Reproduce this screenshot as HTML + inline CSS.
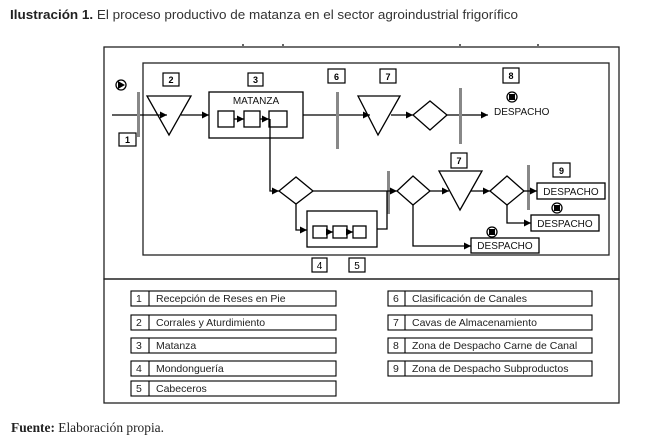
<!DOCTYPE html>
<html><head><meta charset="utf-8"><style>
html,body{margin:0;padding:0;background:#fff;}
svg{display:block;}
text{font-family:"Liberation Sans",sans-serif;}
</style></head><body>
<svg width="648" height="441" viewBox="0 0 648 441" xmlns="http://www.w3.org/2000/svg">
<defs>
<marker id="a" markerWidth="8" markerHeight="8" refX="7" refY="4" orient="auto" markerUnits="userSpaceOnUse">
<path d="M0,0.5 L7,4 L0,7.5 Z" fill="#000"/></marker>
</defs>
<text x="10" y="19" font-size="13" fill="#333" textLength="508" lengthAdjust="spacingAndGlyphs"><tspan font-weight="bold" fill="#222">Ilustración 1.</tspan> El proceso productivo de matanza en el sector agroindustrial frigorífico</text>
<g fill="#666"><rect x="242" y="44" width="2" height="2"/><rect x="282" y="44" width="2" height="2"/><rect x="459" y="44" width="2" height="2"/><rect x="537" y="44" width="2" height="2"/></g>
<g fill="none" stroke="#222" stroke-width="1.3">
<rect x="104" y="47" width="515" height="232"/>
<rect x="143" y="63" width="466" height="192"/>
<rect x="104" y="279" width="515" height="124"/>
</g>
<g stroke="#000" stroke-width="1.3" fill="none">
<circle cx="121" cy="85" r="5"/>
<line x1="112" y1="115" x2="167" y2="115" marker-end="url(#a)"/>
<line x1="181" y1="115" x2="209" y2="115" marker-end="url(#a)"/>
<polygon points="147,96 191,96 169,135" fill="none"/>
<rect x="209" y="92" width="94" height="46"/>
<rect x="218" y="111" width="16" height="16"/>
<rect x="244" y="111" width="16" height="16"/>
<rect x="269" y="111" width="18" height="16"/>
<line x1="234" y1="119" x2="244" y2="119" marker-end="url(#a)"/>
<line x1="260" y1="119" x2="269" y2="119" marker-end="url(#a)"/>
<line x1="303" y1="115" x2="370" y2="115" marker-end="url(#a)"/>
<polygon points="358,96 400,96 378,135"/>
<line x1="391" y1="115" x2="413" y2="115" marker-end="url(#a)"/>
<polygon points="413,115 430,101 447,115 430,130"/>
<line x1="447" y1="115" x2="488" y2="115" marker-end="url(#a)"/>
<circle cx="512" cy="97" r="5"/>
</g>
<path d="M118,81 L125,85 L118,89 Z" fill="#000"/>
<rect x="509" y="94" width="6" height="6" fill="#000"/>
<g fill="#888"><rect x="137" y="92" width="3" height="45"/><rect x="336" y="92" width="3" height="57"/><rect x="459" y="88" width="3" height="56"/>
<rect x="387" y="171" width="3" height="43"/><rect x="527" y="165" width="3" height="45"/></g>
<g stroke="#000" stroke-width="1.3" fill="none">
<polyline points="270,119 270,191 279,191" marker-end="url(#a)"/>
<polygon points="279,191 296,177 313,191 296,204"/>
<line x1="313" y1="191" x2="397" y2="191" marker-end="url(#a)"/>
<polyline points="296,204 296,230 307,230" marker-end="url(#a)"/>
<rect x="307" y="211" width="70" height="36"/>
<rect x="313" y="226" width="14" height="12"/>
<rect x="333" y="226" width="14" height="12"/>
<rect x="353" y="226" width="13" height="12"/>
<line x1="327" y1="232" x2="333" y2="232" marker-end="url(#a)"/>
<line x1="347" y1="232" x2="353" y2="232" marker-end="url(#a)"/>
<polyline points="377,229 387,229 387,191"/>
<polygon points="397,191 413,176 430,191 413,205"/>
<line x1="430" y1="191" x2="449" y2="191" marker-end="url(#a)"/>
<polygon points="439,171 482,171 460,210"/>
<line x1="471" y1="191" x2="490" y2="191" marker-end="url(#a)"/>
<polygon points="490,191 507,176 524,191 507,205"/>
<line x1="524" y1="191" x2="537" y2="191" marker-end="url(#a)"/>
<rect x="537" y="183" width="68" height="16"/>
<polyline points="507,205 507,223 531,223" marker-end="url(#a)"/>
<rect x="531" y="215" width="68" height="16"/>
<circle cx="557" cy="208" r="5"/>
<polyline points="413,205 413,246 471,246" marker-end="url(#a)"/>
<rect x="471" y="238" width="68" height="15"/>
<circle cx="492" cy="232" r="5"/>
</g>
<rect x="554" y="205" width="6" height="6" fill="#000"/>
<rect x="489" y="229" width="6" height="6" fill="#000"/>
<g stroke="#000" stroke-width="1.2" fill="#fff">
<rect x="119" y="133" width="17" height="13"/>
<rect x="163" y="73" width="16" height="13"/>
<rect x="248" y="73" width="15" height="13"/>
<rect x="328" y="69" width="17" height="14"/>
<rect x="380" y="69" width="16" height="14"/>
<rect x="503" y="68" width="16" height="15"/>
<rect x="451" y="153" width="16" height="15"/>
<rect x="553" y="163" width="17" height="14"/>
<rect x="312" y="258" width="15" height="14"/>
<rect x="349" y="258" width="16" height="14"/>
</g>
<g font-size="9" font-weight="bold" text-anchor="middle">
<text x="127.5" y="143">1</text><text x="171" y="83">2</text><text x="255.5" y="83">3</text>
<text x="336.5" y="80">6</text><text x="388" y="80">7</text><text x="511" y="79">8</text>
<text x="459" y="164">7</text><text x="561.5" y="174">9</text>
</g>
<g font-size="10" text-anchor="middle"><text x="319.5" y="269">4</text><text x="357" y="269">5</text></g>
<g font-size="10" fill="#111">
<text x="256" y="104" text-anchor="middle">MATANZA</text>
<text x="494" y="115">DESPACHO</text>
<text x="571" y="195" text-anchor="middle">DESPACHO</text>
<text x="565" y="227" text-anchor="middle">DESPACHO</text>
<text x="505" y="249" text-anchor="middle">DESPACHO</text>
</g>
<g stroke="#000" stroke-width="1.1" fill="none">
<rect x="131" y="291" width="205" height="15"/><line x1="149" y1="291" x2="149" y2="306"/>
<rect x="131" y="315" width="205" height="15"/><line x1="149" y1="315" x2="149" y2="330"/>
<rect x="131" y="338" width="205" height="15"/><line x1="149" y1="338" x2="149" y2="353"/>
<rect x="131" y="361" width="205" height="15"/><line x1="149" y1="361" x2="149" y2="376"/>
<rect x="131" y="381" width="205" height="15"/><line x1="149" y1="381" x2="149" y2="396"/>
<rect x="388" y="291" width="204" height="15"/><line x1="405" y1="291" x2="405" y2="306"/>
<rect x="388" y="315" width="204" height="15"/><line x1="405" y1="315" x2="405" y2="330"/>
<rect x="388" y="338" width="204" height="15"/><line x1="405" y1="338" x2="405" y2="353"/>
<rect x="388" y="361" width="204" height="15"/><line x1="405" y1="361" x2="405" y2="376"/>
</g>
<g font-size="10.5" fill="#222">
<text x="136" y="302">1</text><text x="156" y="302">Recepción de Reses en Pie</text>
<text x="136" y="326">2</text><text x="156" y="326">Corrales y Aturdimiento</text>
<text x="136" y="349">3</text><text x="156" y="349">Matanza</text>
<text x="136" y="372">4</text><text x="156" y="372">Mondonguería</text>
<text x="136" y="392">5</text><text x="156" y="392">Cabeceros</text>
<text x="393" y="302">6</text><text x="412" y="302">Clasificación de Canales</text>
<text x="393" y="326">7</text><text x="412" y="326">Cavas de Almacenamiento</text>
<text x="393" y="349">8</text><text x="412" y="349">Zona de Despacho Carne de Canal</text>
<text x="393" y="372">9</text><text x="412" y="372">Zona de Despacho Subproductos</text>
</g>
<text x="11" y="432" style="font-family:'Liberation Serif',serif;font-size:13.5px" fill="#222" textLength="153" lengthAdjust="spacingAndGlyphs"><tspan font-weight="bold">Fuente:</tspan> Elaboración propia.</text>
</svg>
</body></html>
